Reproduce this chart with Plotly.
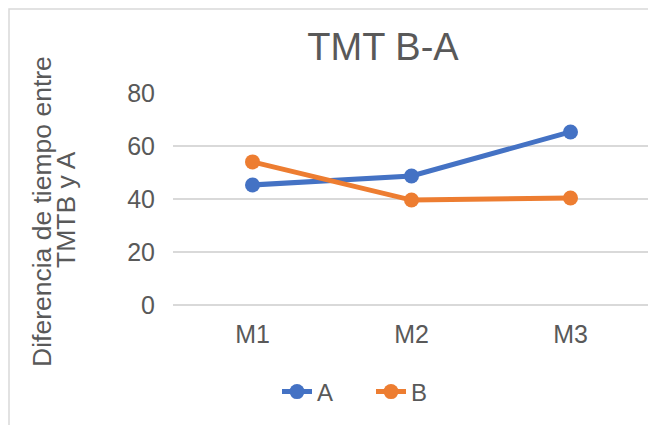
import plotly.graph_objects as go

categories = ["M1", "M2", "M3"]
series_a = [45.3, 48.7, 65.3]
series_b = [54.0, 39.6, 40.4]
y_ticks = [0, 20, 40, 60, 80]
axis_title_lines = ["Diferencia de tiempo entre", "TMTB y A"]

# the page body adds an 8px margin, so target screen pixels are shifted by OFF
OFF = 8
W, H = 656 - OFF, 425 - OFF
L, R, T, B = 173 - OFF, 6, 93 - OFF, 120
plot_w = W - L - R
plot_h = H - T - B


def px_x(p):
    return (p - OFF - L) / plot_w


def px_y(p):
    return (H - B - (p - OFF)) / plot_h


text_color = "#595959"
grid_color = "#d9d9d9"

fig = go.Figure()
fig.add_trace(go.Scatter(
    x=categories, y=series_a, name="A", mode="lines+markers",
    line=dict(color="#4472C4", width=5), marker=dict(size=15, color="#4472C4"),
    cliponaxis=False,
))
fig.add_trace(go.Scatter(
    x=categories, y=series_b, name="B", mode="lines+markers",
    line=dict(color="#ED7D31", width=5), marker=dict(size=15, color="#ED7D31"),
    cliponaxis=False,
))

# y-axis title as two rotated lines, Excel-style tight spacing
title_annotations = [
    dict(text=line, textangle=-90, xref="paper", yref="paper",
         x=px_x(cx), y=px_y(cy), xanchor="center", yanchor="middle",
         showarrow=False, font=dict(size=26.5, color=text_color))
    for line, cx, cy in zip(axis_title_lines, [42, 66], [212, 210])
]

fig.update_layout(
    width=W, height=H,
    margin=dict(l=L, r=R, t=T, b=B),
    paper_bgcolor="white", plot_bgcolor="white",
    font=dict(family="Liberation Sans, Arial, sans-serif", color=text_color, size=25),
    title=dict(text="TMT B-A", x=(383 - OFF) / W, xanchor="center",
               y=1 - (47 - OFF) / H, yanchor="middle",
               font=dict(size=38, color=text_color)),
    showlegend=True,
    legend=dict(orientation="h", x=px_x(277), xanchor="left", y=px_y(392), yanchor="middle",
                entrywidth=49, entrywidthmode="pixels",
                font=dict(size=24, color=text_color), bgcolor="rgba(0,0,0,0)"),
    annotations=title_annotations,
    shapes=[dict(
        type="rect", xref="paper", yref="paper",
        x0=px_x(9), x1=px_x(700), y0=px_y(470), y1=px_y(9),
        line=dict(color=grid_color, width=1.5), layer="below",
    )],
)

fig.update_xaxes(
    type="category", range=[-0.5, 2.5], showgrid=False, zeroline=False,
    showline=False, ticks="", ticklabelstandoff=12,
)
fig.update_yaxes(
    range=[0, 80], tickvals=y_ticks, showgrid=True, gridcolor=grid_color, gridwidth=1.5,
    zeroline=True, zerolinecolor=grid_color, zerolinewidth=1.5,
    showline=False, ticks="", ticklabelstandoff=17,
)

fig.write_html("out.html")
